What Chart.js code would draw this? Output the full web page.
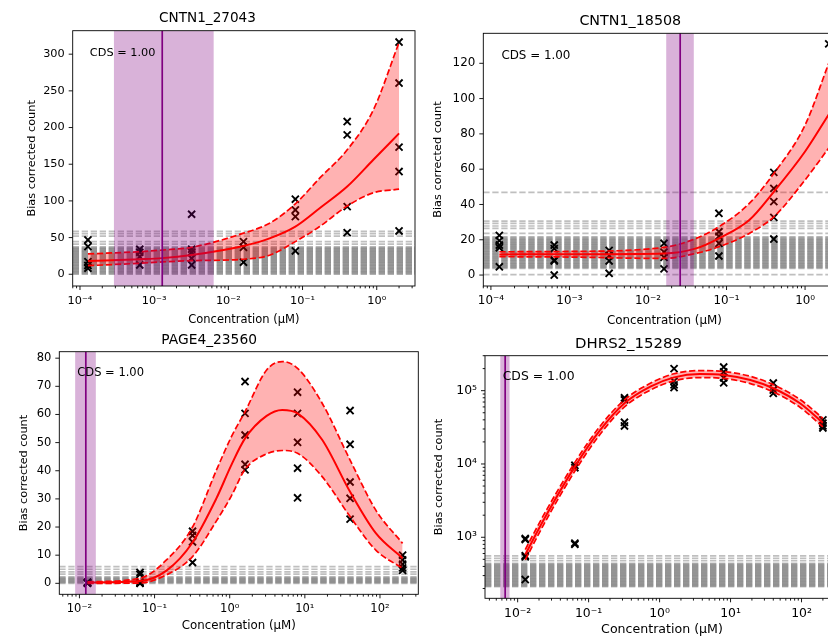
<!DOCTYPE html>
<html><head><meta charset="utf-8">
<script src="https://cdn.jsdelivr.net/npm/chart.js@4.4.1/dist/chart.umd.min.js"></script>
<style>
html,body{margin:0;padding:0;background:#fff;overflow:hidden;width:828px;height:637px;position:relative;}
.p{position:absolute;}
canvas{display:block;}
</style></head><body>
<div class="p" style="left:0px;top:0px;"><canvas id="c1" width="488" height="330"></canvas></div>
<div class="p" style="left:415px;top:0px;"><canvas id="c2" width="499" height="330"></canvas></div>
<div class="p" style="left:0px;top:330px;"><canvas id="c3" width="478" height="307"></canvas></div>
<div class="p" style="left:418px;top:330px;"><canvas id="c4" width="488" height="310"></canvas></div>
<script>
// ---------------- DATA ----------------
const titles = ['CNTN1_27043', 'CNTN1_18508', 'PAGE4_23560', 'DHRS2_15289'];
const cdsText = 'CDS = 1.00';
const yTitle = 'Bias corrected count';
const xTitle = 'Concentration (μM)';

const concA = [0.000128, 0.00064, 0.0032, 0.016, 0.08, 0.4, 2];
const concB = [0.0128, 0.064, 0.32, 1.6, 8, 40, 200];

// Panel 1 : CNTN1_27043
const counts1 = [[46.8, 37.7, 17.2, 12, 8.2], [34, 30, 24, 12.7], [81.8, 34.1, 30, 21.8, 12.7], [44.5, 36.8, 16.4], [102.3, 87.7, 78.6, 31.8], [208.2, 190, 92.2, 56.8], [316.5, 260.6, 173.3, 140, 59]];
const fitX1 = [0.000128, 0.00064, 0.00128, 0.0032, 0.016, 0.036, 0.08, 0.17, 0.4, 0.9, 2];
const fitMean1 = [18.1, 20.5, 22, 26.3, 38.6, 49, 65, 90, 119.5, 156, 192];
const fitUp1 = [27.7, 30.8, 33, 36.8, 56, 69.6, 96, 131, 169.6, 224, 316];
const fitLo1 = [11.7, 15, 16.8, 18.5, 20.5, 26, 44.5, 65, 93, 111, 116];
const band1 = [0.000287, 0.00634];
const ec1 = 0.001285;
const nullLevels1 = [0, 0.8, 1.7, 2.5, 3.3, 4.1, 5.0, 5.8, 6.6, 7.4, 8.3, 9.1, 9.9, 10.7, 11.6, 12.4, 13.2, 14.0, 14.9, 15.7, 16.5, 17.3, 18.2, 19.0, 19.8, 20.6, 21.5, 22.3, 23.1, 23.9, 24.8, 25.6, 26.4, 27.2, 28.1, 28.9, 29.7, 30.5, 31.4, 32.2, 33.0, 33.8, 34.7, 35.5, 36.4, 37.5, 41, 44.5, 52, 55.5, 58.5];

// Panel 2 : CNTN1_18508
const counts2 = [[22.5, 19.5, 17, 15.5, 4.7], [17, 15, 8.5, 8, 0], [14, 11, 8, 1], [18, 13, 10, 3.5], [35, 24.5, 22, 18, 10.8], [58.2, 49.1, 41.6, 32.7, 20.4], [131]];
const fitX2 = [0.000128, 0.001, 0.016, 0.041, 0.08, 0.195, 0.4, 1, 2];
const fitMean2 = [11.7, 11.8, 12.2, 15.1, 20.8, 31.2, 47.2, 70, 91];
const fitUp2 = [13.2, 13.4, 15.7, 20.8, 27.4, 40.6, 57.6, 85, 120];
const fitLo2 = [10.4, 10.2, 9.4, 12.3, 16, 23.6, 33, 53.9, 72];
const band2 = [0.01706, 0.0383];
const ec2 = 0.0257;
const nullLevels2 = [0.2, 3.8, 4.2, 4.5, 4.9, 5.2, 5.6, 6.0, 6.3, 6.7, 7.0, 7.4, 7.8, 8.1, 8.5, 8.8, 9.2, 9.6, 9.9, 10.3, 10.6, 11.0, 11.4, 11.7, 12.1, 12.4, 12.8, 13.2, 13.5, 13.9, 14.2, 14.6, 15.0, 15.3, 15.7, 16.0, 16.4, 16.8, 17.1, 17.5, 17.8, 18.2, 18.6, 18.9, 19.3, 19.6, 20.0, 20.4, 20.8, 21.2, 21.7, 23.6, 26.5, 27.8, 29.3, 30.6, 46.9];

// Panel 3 : PAGE4_23560
const counts3 = [[0.4, 0.2, 0.1, 0, 0.3], [3.9, 3.2, 0.4, 0.1, 0], [18.5, 17, 14.7, 7.4], [71.7, 60.4, 52.7, 42.3, 40.3], [67.9, 60.4, 50.1, 40.9, 30.4], [61.4, 49.4, 36, 30.2, 22.8], [10, 8.3, 6.8, 5.5, 4.6]];
const fitX3 = [0.0128, 0.064, 0.144, 0.32, 0.66, 1.05, 1.6, 3.1, 5, 8, 17, 40, 88, 200];
const fitMean3 = [0.3, 0.8, 4.5, 14.5, 30, 42, 51.5, 59.5, 61.6, 60.4, 51, 32.5, 17.8, 8.9];
const fitUp3 = [0.5, 1.8, 8.3, 20, 40, 52, 61, 75.8, 78.8, 76.4, 64, 43.8, 26, 14.2];
const fitLo3 = [0, 0.1, 3, 9.5, 22, 31, 40.5, 46, 47.2, 46.2, 37.9, 23.7, 11.8, 5.3];
const band3 = [0.00877, 0.01652];
const ec3 = 0.01216;
const nullLevels3 = [0, 0.2, 0.4, 0.6, 0.8, 1.0, 1.2, 1.4, 1.6, 1.8, 2.0, 2.3, 3.3, 4.1, 5.0, 5.9];

// Panel 4 : DHRS2_15289
const counts4 = [[960, 930, 560, 540, 265], [9600, 8900, 830, 800], [80000, 75000, 37000, 33000], [200000, 135000, 120000, 110000], [210000, 180000, 150000, 128000], [127000, 102000, 92000], [40000, 36000, 33000, 31000]];
const fitX4 = [0.0128, 0.0232, 0.064, 0.146, 0.32, 0.74, 1.6, 3.7, 8, 19, 40, 95, 200];
const fitMean4 = [580, 1720, 9200, 29100, 67300, 113500, 152000, 169000, 164000, 140000, 108000, 67300, 36600];
const fitUp4 = [680, 2000, 10500, 33000, 75000, 126000, 170000, 188000, 183000, 157000, 121000, 76000, 42000];
const fitLo4 = [490, 1480, 8000, 25600, 60000, 102000, 136000, 151000, 147000, 125000, 96000, 59500, 32000];
const band4 = [0.00569, 0.00769];
const ec4 = 0.00667;
const nullLevels4 = [212, 216, 220, 224, 228, 233, 237, 242, 246, 251, 256, 261, 266, 271, 276, 281, 287, 292, 298, 304, 310, 316, 322, 328, 334, 341, 347, 354, 361, 368, 375, 382, 390, 397, 405, 413, 421, 430, 442, 479, 517, 556];

// Ticks
const xTicksA = [1e-4, 1e-3, 1e-2, 1e-1, 1];
const xTickLabelsA = ['10⁻⁴', '10⁻³', '10⁻²', '10⁻¹', '10⁰'];
const xTicksB = [1e-2, 1e-1, 1, 10, 100];
const xTickLabelsB = ['10⁻²', '10⁻¹', '10⁰', '10¹', '10²'];
const yTicks1 = [0, 50, 100, 150, 200, 250, 300];
const yTicks2 = [0, 20, 40, 60, 80, 100, 120];
const yTicks3 = [0, 10, 20, 30, 40, 50, 60, 70, 80];
const yTicks4 = [1e3, 1e4, 1e5];
const yTickLabels4 = ['10³', '10⁴', '10⁵'];

// ---------------- RENDER ----------------
const FONT = "'DejaVu Sans', 'Liberation Sans', sans-serif";
Chart.defaults.font.family = FONT;
Chart.defaults.color = '#000';

function makePanel(id, c) {
  const pts = [];
  c.conc.forEach((x, i) => c.counts[i].forEach(v => pts.push({x: x, y: v})));
  const line = (xs, ys) => xs.map((x, i) => ({x: x, y: ys[i]}));
  const plugin = {
    id: 'panelDeco' + id,
    beforeDatasetsDraw(chart) {
      const {ctx, chartArea: a} = chart;
      const ys = chart.scales.y;
      ctx.save();
      ctx.beginPath(); ctx.rect(a.left, a.top, a.right - a.left, a.bottom - a.top); ctx.clip();
      ctx.strokeStyle = 'rgba(128,128,128,0.5)';
      ctx.lineWidth = 1.7;
      ctx.setLineDash([6.3, 2.7]);
      c.nullLevels.forEach(v => {
        const py = ys.getPixelForValue(v);
        ctx.beginPath(); ctx.moveTo(a.left, py); ctx.lineTo(a.right, py); ctx.stroke();
      });
      ctx.restore();
    },
    afterDatasetsDraw(chart) {
      const {ctx, chartArea: a} = chart;
      const xs = chart.scales.x;
      ctx.save();
      ctx.beginPath(); ctx.rect(a.left, a.top, a.right - a.left, a.bottom - a.top); ctx.clip();
      const x1 = xs.getPixelForValue(c.band[0]), x2 = xs.getPixelForValue(c.band[1]);
      ctx.fillStyle = 'rgba(128,0,128,0.3)';
      ctx.fillRect(x1, a.top, x2 - x1, a.bottom - a.top);
      const xe = xs.getPixelForValue(c.ec);
      ctx.strokeStyle = '#800080'; ctx.lineWidth = 1.7;
      ctx.beginPath(); ctx.moveTo(xe, a.top); ctx.lineTo(xe, a.bottom); ctx.stroke();
      ctx.restore();
    },
    afterDraw(chart) {
      const {ctx, chartArea: a} = chart;
      const xs = chart.scales.x, ys = chart.scales.y;
      ctx.save();
      ctx.fillStyle = '#000';
      ctx.font = c.fs + 'px ' + FONT;
      ctx.textBaseline = 'alphabetic';
      ctx.textAlign = 'left';
      ctx.fillText(cdsText, a.left + 0.05 * (a.right - a.left), a.top + 0.1 * (a.bottom - a.top));
      ctx.strokeStyle = '#000'; ctx.lineWidth = 0.9;
      ctx.strokeRect(a.left, a.top, a.right - a.left, a.bottom - a.top);
      const tick = (x1, y1, x2, y2) => { ctx.beginPath(); ctx.moveTo(x1, y1); ctx.lineTo(x2, y2); ctx.stroke(); };
      xs.ticks.forEach(t => { const px = xs.getPixelForValue(t.value); tick(px, a.bottom, px, a.bottom + 4); });
      ys.ticks.forEach(t => { const py = ys.getPixelForValue(t.value); tick(a.left - 4, py, a.left, py); });
      const minor = (sc, horiz) => {
        const lo = Math.floor(Math.log10(sc.min)), hi = Math.ceil(Math.log10(sc.max));
        for (let n = lo; n <= hi; n++) for (let k = 2; k <= 9; k++) {
          const v = k * Math.pow(10, n);
          if (v < sc.min || v > sc.max) continue;
          const p = sc.getPixelForValue(v);
          if (horiz) tick(p, a.bottom, p, a.bottom + 2.3); else tick(a.left - 2.3, p, a.left, p);
        }
      };
      minor(xs, true);
      if (c.yLog) minor(ys, false);
      ctx.restore();
    }
  };
  const dash = [6.3, 2.7];
  new Chart(document.getElementById(id), {
    type: 'scatter',
    data: { datasets: [
      { data: pts, pointStyle: 'crossRot', pointRadius: 5, pointHoverRadius: 5, borderColor: '#000', backgroundColor: '#000', borderWidth: 1.9, order: 4 },
      { data: line(c.fitX, c.fitUp), showLine: true, borderColor: '#ff0000', borderWidth: 1.7, borderDash: dash, pointRadius: 0, fill: '+1', backgroundColor: 'rgba(255,0,0,0.3)', cubicInterpolationMode: 'monotone', order: 3 },
      { data: line(c.fitX, c.fitLo), showLine: true, borderColor: '#ff0000', borderWidth: 1.7, borderDash: dash, pointRadius: 0, fill: false, cubicInterpolationMode: 'monotone', order: 2 },
      { data: line(c.fitX, c.fitMean), showLine: true, borderColor: '#ff0000', borderWidth: 2, pointRadius: 0, fill: false, cubicInterpolationMode: 'monotone', order: 1 }
    ]},
    options: {
      responsive: false, animation: false, devicePixelRatio: 1,
      layout: { padding: { left: 0, top: 0, bottom: 0, right: c.pr } },
      plugins: {
        legend: { display: false }, tooltip: { enabled: false },
        title: { display: true, text: c.title, color: '#000', font: { size: c.tfs, weight: 'normal' }, padding: { top: c.tpt, bottom: c.tpb } }
      },
      scales: {
        x: {
          type: 'logarithmic', position: 'bottom', min: c.xMin, max: c.xMax, bounds: 'data',
          grid: { display: false, drawTicks: true, tickLength: 4 }, border: { display: false },
          ticks: { autoSkip: false, maxRotation: 0, minRotation: 0, padding: 4, color: '#000', font: { size: c.fs }, callback: (v, i) => c.xTickLabels[i] },
          afterBuildTicks: s => { s.ticks = c.xTicks.map(v => ({ value: v })); },
          afterFit: s => { s.height = c.xh; },
          title: { display: true, text: xTitle, color: '#000', font: { size: c.xfs }, padding: { top: 0, bottom: c.xtp } }
        },
        y: {
          type: c.yLog ? 'logarithmic' : 'linear', position: 'left', min: c.yMin, max: c.yMax, bounds: 'data',
          grid: { display: false, drawTicks: true, tickLength: 4 }, border: { display: false },
          ticks: { autoSkip: false, padding: 4, color: '#000', font: { size: c.fs }, callback: (v, i) => c.yTickLabels[i] },
          afterBuildTicks: s => { s.ticks = c.yTicks.map(v => ({ value: v })); },
          afterFit: s => { s.width = c.yw; },
          title: { display: true, text: yTitle, color: '#000', font: { size: 11.3 }, padding: { top: c.ytp, bottom: 0 } }
        }
      }
    },
    plugins: [plugin]
  });
}

makePanel('c1', { title: titles[0], conc: concA, counts: counts1, fitX: fitX1, fitMean: fitMean1, fitUp: fitUp1, fitLo: fitLo1,
  band: band1, ec: ec1, nullLevels: nullLevels1,
  xMin: Math.pow(10, -4.098), xMax: Math.pow(10, 0.516), xTicks: xTicksA, xTickLabels: xTickLabelsA,
  yLog: false, yMin: -16, yMax: 332, yTicks: yTicks1, yTickLabels: yTicks1.map(String),
  tfs: 13.6, fs: 11.3, xfs: 11.5, pr: 73,
  tpt: 10.14, tpb: 4.24, yw: 72.7, ytp: 24.9, xh: 44, xtp: 3.1 });

makePanel('c2', { title: titles[1], conc: concA, counts: counts2, fitX: fitX2, fitMean: fitMean2, fitUp: fitUp2, fitLo: fitLo2,
  band: band2, ec: ec2, nullLevels: nullLevels2,
  xMin: Math.pow(10, -4.097), xMax: Math.pow(10, 0.516), xTicks: xTicksA, xTickLabels: xTickLabelsA,
  yLog: false, yMin: -6.2, yMax: 137, yTicks: yTicks2, yTickLabels: yTicks2.map(String),
  tfs: 14.3, fs: 11.9, xfs: 11.9, pr: 68.4,
  tpt: 13.12, tpb: 3.02, yw: 68.3, ytp: 16.2, xh: 44, xtp: 2.16 });

makePanel('c3', { title: titles[2], conc: concB, counts: counts3, fitX: fitX3, fitMean: fitMean3, fitUp: fitUp3, fitLo: fitLo3,
  band: band3, ec: ec3, nullLevels: nullLevels3,
  xMin: Math.pow(10, -2.268), xMax: Math.pow(10, 2.51), xTicks: xTicksB, xTickLabels: xTickLabelsB,
  yLog: false, yMin: -3.9, yMax: 82.3, yTicks: yTicks3, yTickLabels: yTicks3.map(String),
  tfs: 13.8, fs: 11.5, xfs: 11.8, pr: 59.7,
  tpt: 1.72, tpb: 3.42, yw: 59.3, ytp: 17.2, xh: 42.7, xtp: 3.92 });

makePanel('c4', { title: titles[3], conc: concB, counts: counts4, fitX: fitX4, fitMean: fitMean4, fitUp: fitUp4, fitLo: fitLo4,
  band: band4, ec: ec4, nullLevels: nullLevels4,
  xMin: Math.pow(10, -2.46), xMax: Math.pow(10, 2.528), xTicks: xTicksB, xTickLabels: xTickLabelsB,
  yLog: true, yMin: 147, yMax: 300000, yTicks: yTicks4, yTickLabels: yTickLabels4,
  tfs: 14.9, fs: 12.4, xfs: 12.6, pr: 67,
  tpt: 5.06, tpb: 2.76, yw: 67, ytp: 14.2, xh: 41.7, xtp: 2.44 });
</script>
</body></html>
